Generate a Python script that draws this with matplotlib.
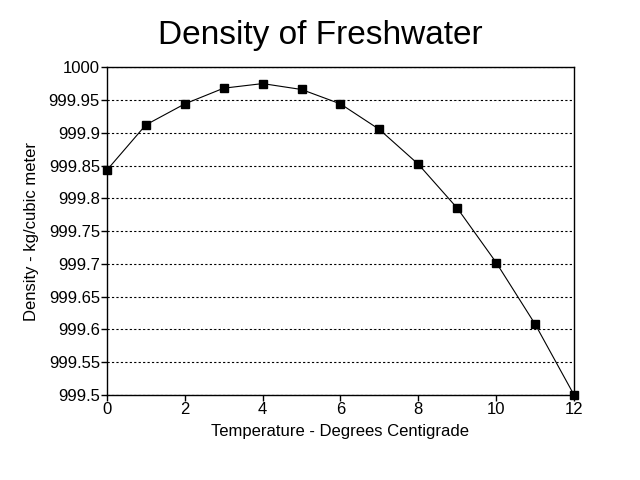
import matplotlib
matplotlib.use('Agg')
import matplotlib.pyplot as plt

# 温度 (摄氏度) 与淡水密度
temperature = [0, 1, 2, 3, 4, 5, 6, 7, 8, 9, 10, 11, 12]
density = [999.843, 999.912, 999.944, 999.968, 999.975, 999.966, 999.944,
           999.905, 999.852, 999.785, 999.702, 999.608, 999.500]

y_ticks = [999.5, 999.55, 999.6, 999.65, 999.7, 999.75, 999.8, 999.85,
           999.9, 999.95, 1000]
y_tick_labels = ['999.5', '999.55', '999.6', '999.65', '999.7', '999.75',
                 '999.8', '999.85', '999.9', '999.95', '1000']
x_ticks = [0, 2, 4, 6, 8, 10, 12]

plt.rcParams['font.family'] = ['Liberation Sans', 'DejaVu Sans']

fig = plt.figure(figsize=(6.4, 4.8), dpi=100)
ax = fig.add_axes([0.167, 0.177, 0.730, 0.683])

ax.plot(temperature, density, color='black', linewidth=0.8,
        marker='s', markersize=6, markerfacecolor='black',
        markeredgecolor='black', clip_on=False, zorder=3)

ax.set_xlim(0, 12)
ax.set_ylim(999.5, 1000)
ax.set_xticks(x_ticks)
ax.set_yticks(y_ticks)
ax.set_yticklabels(y_tick_labels)

# 只画水平虚线网格
ax.yaxis.grid(True, linestyle=(0, (2, 2)), color='black', linewidth=0.8)
ax.set_axisbelow(True)

for s in ax.spines.values():
    s.set_linewidth(1.0)
ax.tick_params(direction='out', length=4, width=1, labelsize=12, pad=1)

# 标题放在整张图的中间
fig.text(0.5, 0.927, 'Density of Freshwater', fontsize=24,
         ha='center', va='center')
ax.set_xlabel('Temperature - Degrees Centigrade', fontsize=12, labelpad=5)
ax.set_ylabel('Density - kg/cubic meter', fontsize=12, labelpad=7)

fig.savefig('out.png', dpi=100)
